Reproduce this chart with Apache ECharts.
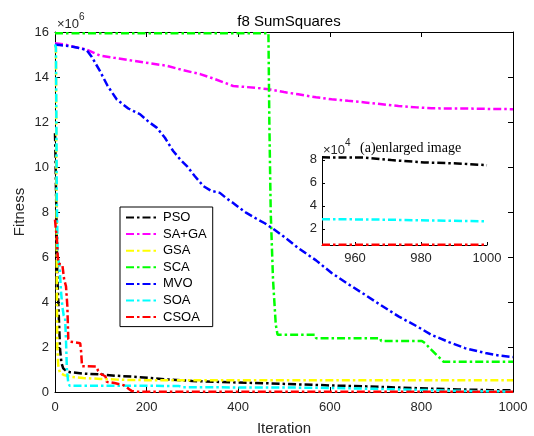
<!DOCTYPE html>
<html>
<head>
<meta charset="utf-8">
<script src="https://cdn.jsdelivr.net/npm/echarts@6/dist/echarts.min.js"></script>
<style>
  html, body { margin: 0; padding: 0; background: #fff; }
  #chart { width: 534px; height: 436px; }
</style>
</head>
<body>
<div id="chart"></div>
<script>
// Convergence curves on f8 (SumSquares); fitness in units of 1e6.
const iterTicks = [0, 200, 400, 600, 800, 1000];
const fitnessTicks = [0, 2, 4, 6, 8, 10, 12, 14, 16];
const zoomIterTicks = [960, 980, 1000];
const zoomFitTicks = [2, 4, 6, 8];          // units of 1e4 in the enlarged view

const seriesNames = ['PSO', 'SA+GA', 'GSA', 'SCA', 'MVO', 'SOA', 'CSOA'];
const seriesColors = ['#000000', '#ff00ff', '#ffff00', '#00ff00', '#0000ff', '#00ffff', '#ff0000'];

// [iteration, best fitness x1e6]
const PSO = [[0,11.5],[1,10.6],[2,9.2],[3,8.0],[4,6.5],[5,5.2],[7,4.1],[9,3.0],[11,1.9],[14,1.3],[18,1.05],
  [25,0.92],[33,0.88],[62,0.82],[98,0.78],[135,0.72],[171,0.68],[207,0.63],[244,0.56],[300,0.49],
  [400,0.42],[458,0.39],[530,0.34],[604,0.29],[680,0.25],[750,0.2],[820,0.15],[880,0.115],
  [950,0.0822],[963,0.0820],[971,0.0798],[981,0.0778],[991,0.0769],[1000,0.0754]];
const SAGA = [[0,15.5],[20,15.45],[50,15.3],[69,15.22],[98,14.95],[130,14.85],[171,14.72],[210,14.6],
  [244,14.5],[280,14.3],[317,14.13],[350,13.9],[389,13.6],[420,13.55],[462,13.47],[500,13.33],
  [531,13.23],[570,13.1],[604,13.01],[640,12.94],[677,12.87],[710,12.8],[750,12.71],[790,12.65],
  [822,12.61],[860,12.6],[895,12.6],[950,12.58],[1000,12.57]];
const GSA = [[0,15.4],[2,15.3],[3,10.0],[4,5.0],[5,2.0],[7,1.2],[9,0.98],[11,0.85],[20,0.75],[33,0.68],
  [62,0.62],[100,0.58],[135,0.55],[171,0.53],[250,0.52],[1000,0.52]];
const SCA = [[0,15.95],[466,15.95],[468,12.0],[471,8.0],[476,5.0],[482,3.0],[486,2.54],[568,2.54],
  [570,2.39],[710,2.39],[712,2.27],[801,2.27],[808,2.17],[822,1.87],[837,1.57],[848,1.35],[1000,1.35]];
const MVO = [[0,15.43],[10,15.42],[30,15.38],[50,15.3],[69,15.2],[80,14.9],[98,14.27],[115,13.6],
  [135,13.0],[160,12.6],[186,12.34],[205,12.0],[222,11.75],[240,11.3],[258,10.71],[275,10.3],
  [288,10.04],[305,9.6],[324,9.15],[340,8.95],[360,8.85],[375,8.6],[389,8.4],[405,8.15],[418,7.96],
  [440,7.7],[458,7.5],[480,7.2],[500,6.9],[531,6.4],[570,5.85],[604,5.29],[640,4.8],[677,4.32],
  [710,3.88],[750,3.36],[790,2.92],[822,2.54],[860,2.22],[895,1.95],[940,1.73],[970,1.62],[1000,1.55]];
const SOA = [[0,15.45],[2,15.3],[3,12.0],[4,8.5],[6,6.0],[10,5.6],[13,4.5],[16,3.8],[19,3.4],[22,3.3],
  [24,2.3],[26,1.0],[29,0.4],[32,0.28],[100,0.28],[270,0.27],[280,0.21],[500,0.2],[600,0.18],
  [700,0.14],[800,0.09],[900,0.045],[950,0.0284],[965,0.0282],[980,0.0275],[1000,0.0266]];
const CSOA = [[0,7.66],[2,7.2],[4,6.9],[6,6.0],[8,5.7],[16,5.66],[20,5.0],[24,4.7],[27,3.8],[29,2.35],
  [33,2.24],[55,2.17],[57,1.8],[59,1.15],[90,1.13],[94,0.95],[100,0.8],[110,0.7],[113,0.45],
  [130,0.4],[150,0.3],[156,0.22],[162,0.12],[168,0.04],[180,0.01],[300,0.008],[950,0.0063],[1000,0.0063]];

const allSeries = [PSO, SAGA, GSA, SCA, MVO, SOA, CSOA];
const zoomedNames = ['PSO', 'SOA', 'CSOA'];

const FONT = '"Liberation Sans", Arial, sans-serif';
const SERIF = '"Liberation Serif", "Times New Roman", serif';
const LABEL = '#262626';
const DASH = [8, 3, 2.5, 3];
const plain = function (v) { return String(v); };

const chart = echarts.init(document.getElementById('chart'), null, { renderer: 'canvas' });

const mainGrid = { left: 55, top: 32, width: 458, height: 360 };
const zoomGrid = { left: 322, top: 157, width: 165, height: 88 };

function tickAxisCommon() {
  return {
    axisLine: { show: true, onZero: false, lineStyle: { color: '#000', width: 1 } },
    axisTick: { show: true, inside: true, length: 5, lineStyle: { color: '#000' } },
    splitLine: { show: false },
    nameMoveOverlap: false,
    axisLabel: { color: LABEL, fontFamily: FONT, fontSize: 13 }
  };
}

const xAxes = [
  Object.assign(tickAxisCommon(), {
    type: 'value', gridIndex: 0, min: 0, max: 1000, interval: 200, position: 'bottom',
    name: 'Iteration', nameLocation: 'middle', nameGap: 29,
    nameTextStyle: { color: LABEL, fontFamily: FONT, fontSize: 15 },
    axisLabel: { color: LABEL, fontFamily: FONT, fontSize: 13, margin: 9,
      customValues: iterTicks, formatter: plain }
  }),
  Object.assign(tickAxisCommon(), {
    type: 'value', gridIndex: 0, min: 0, max: 1000, interval: 200, position: 'top',
    axisLabel: { show: false }
  }),
  Object.assign(tickAxisCommon(), {
    type: 'value', gridIndex: 1, min: 950, max: 1000, position: 'bottom',
    axisTick: { show: true, inside: true, length: 3, customValues: zoomIterTicks, lineStyle: { color: '#000' } },
    axisLabel: { color: LABEL, fontFamily: FONT, fontSize: 13, margin: 7,
      customValues: zoomIterTicks, formatter: plain }
  })
];

const yAxes = [
  Object.assign(tickAxisCommon(), {
    type: 'value', gridIndex: 0, min: 0, max: 16, interval: 2, position: 'left',
    name: 'Fitness', nameLocation: 'middle', nameGap: 28,
    nameTextStyle: { color: LABEL, fontFamily: FONT, fontSize: 15 },
    axisLabel: { color: LABEL, fontFamily: FONT, fontSize: 13, margin: 6,
      customValues: fitnessTicks, formatter: plain }
  }),
  Object.assign(tickAxisCommon(), {
    type: 'value', gridIndex: 0, min: 0, max: 16, interval: 2, position: 'right',
    axisLabel: { show: false }
  }),
  Object.assign(tickAxisCommon(), {
    type: 'value', gridIndex: 1, min: 0.6, max: 8.25, position: 'left',
    axisTick: { show: true, inside: true, length: 3, customValues: zoomFitTicks, lineStyle: { color: '#000' } },
    axisLabel: { color: LABEL, fontFamily: FONT, fontSize: 13, margin: 5,
      customValues: zoomFitTicks, formatter: plain }
  })
];

const series = [];
allSeries.forEach(function (data, i) {
  series.push({
    name: seriesNames[i], type: 'line', xAxisIndex: 0, yAxisIndex: 0,
    data: data, symbol: 'none', showSymbol: false, smooth: false, clip: true,
    lineStyle: { color: seriesColors[i], width: 2.5, type: DASH },
    itemStyle: { color: seriesColors[i] },
    z: 2 + i
  });
});
// enlarged view of the last 50 iterations (fitness in units of 1e4)
zoomedNames.forEach(function (name) {
  const i = seriesNames.indexOf(name);
  const tail = allSeries[i].filter(function (p) { return p[0] >= 950; })
    .map(function (p) { return [p[0], p[1] * 100]; });
  series.push({
    name: name, type: 'line', xAxisIndex: 2, yAxisIndex: 2,
    data: tail, symbol: 'none', showSymbol: false, clip: true,
    lineStyle: { color: seriesColors[i], width: 2.5, type: DASH },
    itemStyle: { color: seriesColors[i] },
    z: 20 + i
  });
});

chart.setOption({
  animation: false,
  backgroundColor: '#fff',
  title: {
    text: 'f8 SumSquares', left: 284, top: 9, textAlign: 'center',
    textStyle: { color: '#000', fontFamily: FONT, fontSize: 15, fontWeight: 'normal' }
  },
  grid: [
    Object.assign({ show: false, containLabel: false, outerBoundsMode: 'none' }, mainGrid),
    Object.assign({ show: false, containLabel: false, outerBoundsMode: 'none' }, zoomGrid)
  ],
  legend: {
    data: seriesNames, orient: 'vertical', left: 120, top: 207,
    padding: [4, 6, 3, 5], itemGap: 3.6, itemWidth: 32, itemHeight: 14,
    backgroundColor: '#fff', borderColor: '#000', borderWidth: 1, borderRadius: 0,
    itemStyle: { opacity: 0 },
    textStyle: { color: '#000', fontFamily: FONT, fontSize: 13 },
    selectedMode: false
  },
  xAxis: xAxes,
  yAxis: yAxes,
  series: series,
  graphic: [
    { type: 'text', left: 57, top: 12, style: {
      text: '{a|×10}{b|6}', rich: {
        a: { fontFamily: FONT, fontSize: 13, fill: LABEL, verticalAlign: 'bottom', padding: [6, 0, 0, 0] },
        b: { fontFamily: FONT, fontSize: 10, fill: LABEL, verticalAlign: 'top', padding: [0, 0, 6, 0] }
      } } },
    { type: 'text', left: 323, top: 138, style: {
      text: '{a|×10}{b|4}', rich: {
        a: { fontFamily: FONT, fontSize: 13, fill: LABEL, verticalAlign: 'bottom', padding: [6, 0, 0, 0] },
        b: { fontFamily: FONT, fontSize: 10, fill: LABEL, verticalAlign: 'top', padding: [0, 0, 6, 0] }
      } } },
    { type: 'text', left: 360, top: 141, style: {
      text: '(a)enlarged image', fontFamily: SERIF, fontSize: 14, fill: '#000' } }
  ]
});
</script>
</body>
</html>
